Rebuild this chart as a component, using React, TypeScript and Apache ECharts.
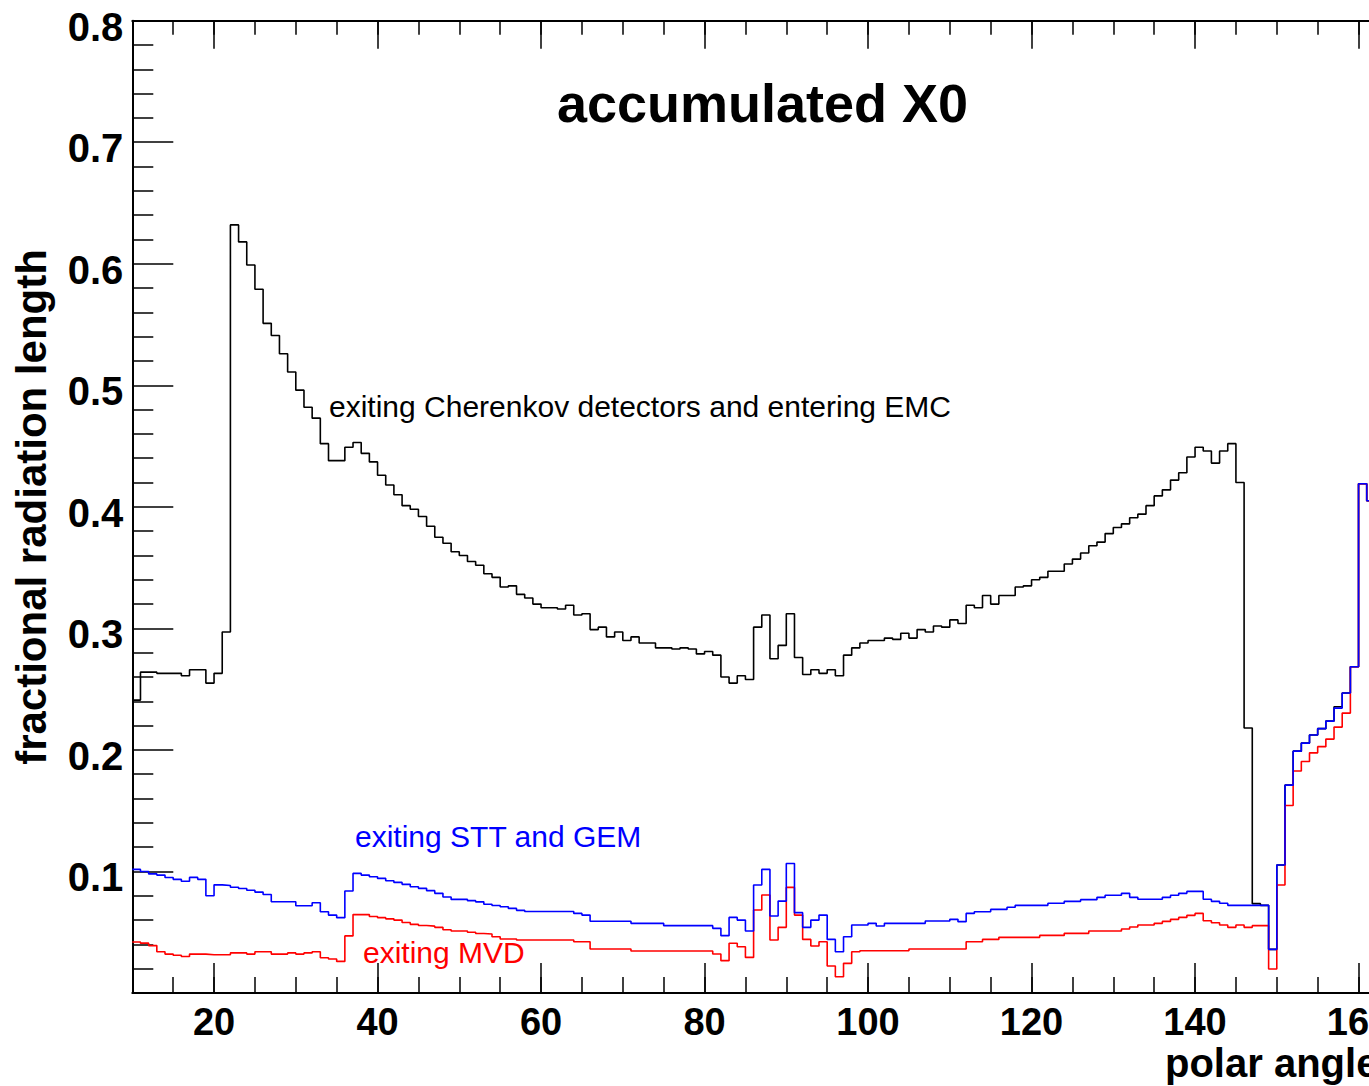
import React, { useEffect, useRef } from "react";
import * as echarts from "echarts";

// Histogram binning: 1-degree bins starting at 10 degrees (bins 10..161 visible)
const binStart = 10;
const binWidth = 1;

// exiting Cherenkov detectors and entering EMC (black)
const cherenkovEmc = [
  0.241, 0.264, 0.264, 0.263, 0.263, 0.263, 0.261, 0.266, 0.266, 0.255,
  0.263, 0.297, 0.632, 0.618, 0.599, 0.579, 0.551, 0.541, 0.526, 0.511,
  0.496, 0.482, 0.473, 0.452, 0.438, 0.438, 0.449, 0.453, 0.444, 0.437,
  0.426, 0.418, 0.41, 0.401, 0.398, 0.392, 0.384, 0.375, 0.37, 0.363,
  0.36, 0.355, 0.352, 0.345, 0.342, 0.334, 0.335, 0.328, 0.325, 0.32,
  0.317, 0.317, 0.316, 0.319, 0.311, 0.312, 0.299, 0.301, 0.293, 0.297,
  0.29, 0.293, 0.288, 0.288, 0.284, 0.284, 0.283, 0.284, 0.283, 0.279,
  0.281, 0.278, 0.26, 0.255, 0.261, 0.258, 0.301, 0.311, 0.275, 0.286,
  0.312, 0.276, 0.262, 0.266, 0.263, 0.266, 0.261, 0.278, 0.284, 0.288,
  0.29, 0.29, 0.292, 0.291, 0.296, 0.292, 0.299, 0.297, 0.302, 0.301,
  0.307, 0.304, 0.319, 0.317, 0.327, 0.32, 0.327, 0.327, 0.334, 0.335,
  0.34, 0.342, 0.347, 0.347, 0.353, 0.357, 0.362, 0.368, 0.371, 0.378,
  0.383, 0.386, 0.391, 0.394, 0.401, 0.409, 0.414, 0.422, 0.428, 0.441,
  0.449, 0.446, 0.436, 0.446, 0.452, 0.42, 0.218, 0.0735, 0.0721, 0.0359,
  0.1053, 0.171, 0.199, 0.2056, 0.2123, 0.2175, 0.2237, 0.2355, 0.2468, 0.2684,
  0.419, 0.405,
];

// exiting STT and GEM (blue)
const sttGem = [
  0.1017, 0.1, 0.098, 0.097, 0.095, 0.0935, 0.092, 0.0951, 0.0935, 0.08,
  0.089, 0.0885, 0.087, 0.086, 0.0845, 0.083, 0.081, 0.0751, 0.0751, 0.0751,
  0.0718, 0.0718, 0.0743, 0.0669, 0.0641, 0.062, 0.0839, 0.0984, 0.097, 0.0957,
  0.0943, 0.0924, 0.091, 0.0894, 0.0874, 0.0861, 0.0842, 0.082, 0.079, 0.077,
  0.077, 0.076, 0.075, 0.073, 0.072, 0.071, 0.0696, 0.068, 0.067, 0.067,
  0.067, 0.067, 0.067, 0.067, 0.0655, 0.0641, 0.059, 0.059, 0.059, 0.059,
  0.059, 0.0573, 0.0573, 0.0573, 0.0573, 0.0554, 0.0554, 0.0554, 0.0554, 0.0554,
  0.0554, 0.0532, 0.0472, 0.0622, 0.06, 0.051, 0.0888, 0.1017, 0.0633, 0.0756,
  0.1066, 0.0661, 0.054, 0.06, 0.0641, 0.0441, 0.034, 0.0463, 0.0559, 0.0559,
  0.0573, 0.0551, 0.0573, 0.0573, 0.0573, 0.0573, 0.0573, 0.0592, 0.0592, 0.0592,
  0.0606, 0.0587, 0.0655, 0.0669, 0.0669, 0.0688, 0.0688, 0.0705, 0.0721, 0.0721,
  0.0721, 0.0721, 0.0738, 0.0738, 0.0754, 0.0754, 0.0768, 0.0768, 0.0787, 0.0804,
  0.0804, 0.082, 0.0787, 0.0771, 0.0771, 0.0771, 0.0787, 0.0804, 0.082, 0.0836,
  0.0836, 0.0771, 0.0754, 0.0738, 0.0721, 0.0721, 0.0721, 0.0721, 0.0721, 0.0359,
  0.1053, 0.171, 0.199, 0.2056, 0.2123, 0.2175, 0.2237, 0.2344, 0.2468, 0.2684,
  0.419, 0.405,
];

// exiting MVD (red)
const mvd = [
  0.042, 0.041, 0.039, 0.034, 0.032, 0.031, 0.03, 0.032, 0.032, 0.0315,
  0.0315, 0.0315, 0.033, 0.033, 0.032, 0.034, 0.034, 0.032, 0.032, 0.033,
  0.032, 0.033, 0.034, 0.029, 0.028, 0.026, 0.047, 0.0645, 0.0645, 0.063,
  0.062, 0.061, 0.06, 0.058, 0.0565, 0.0555, 0.055, 0.054, 0.052, 0.051,
  0.051, 0.05, 0.049, 0.0485, 0.0463, 0.0444, 0.0444, 0.0436, 0.0436, 0.0436,
  0.0436, 0.0436, 0.0436, 0.0436, 0.0422, 0.0422, 0.0362, 0.0362, 0.0362, 0.0362,
  0.0362, 0.0345, 0.0345, 0.0345, 0.0345, 0.0345, 0.0345, 0.0345, 0.0345, 0.0345,
  0.0345, 0.0321, 0.0266, 0.0409, 0.0381, 0.0293, 0.0683, 0.0806, 0.0436, 0.054,
  0.0869, 0.0641, 0.0441, 0.0387, 0.0422, 0.0222, 0.0134, 0.0244, 0.034, 0.0348,
  0.0348, 0.0348, 0.0348, 0.0348, 0.0348, 0.0362, 0.0362, 0.0362, 0.0362, 0.0362,
  0.0362, 0.0362, 0.0422, 0.0422, 0.0441, 0.0441, 0.0458, 0.0458, 0.0458, 0.0458,
  0.0458, 0.0474, 0.0474, 0.0474, 0.0491, 0.0491, 0.0491, 0.051, 0.051, 0.051,
  0.051, 0.0526, 0.0543, 0.0559, 0.0559, 0.0573, 0.0589, 0.0606, 0.0622, 0.0639,
  0.0655, 0.0595, 0.0578, 0.0559, 0.054, 0.0559, 0.054, 0.0554, 0.0554, 0.0197,
  0.0888, 0.1543, 0.1826, 0.1905, 0.1976, 0.2027, 0.2089, 0.2188, 0.2303, 0.2684,
  0.419, 0.405,
];

const xMin = 10;
const xMax = 170;
const xMajorTicks = [20, 40, 60, 80, 100, 120, 140, 160];
const xMinorStep = 5;
const yMin = 0;
const yMax = 0.8;
const yStep = 0.1;

const titleText = "accumulated X0";
const yTitle = "fractional radiation length";
const xTitle = "polar angle";
const labelCherenkov = "exiting Cherenkov detectors and entering EMC";
const labelStt = "exiting STT and GEM";
const labelMvd = "exiting MVD";

const FONT = '"Liberation Sans", Arial, Helvetica, sans-serif';

function toSteps(values: number[]): number[][] {
  const pts = values.map((v, i) => [binStart + i * binWidth, v]);
  pts.push([binStart + values.length * binWidth, values[values.length - 1]]);
  return pts;
}

const CHART_W = 1500;
const CHART_H = 1086;

export default function App() {
  const ref = useRef<HTMLDivElement>(null);

  useEffect(() => {
    if (!ref.current) return;
    const chart = echarts.init(ref.current, undefined, { renderer: "svg" });
    const axisLineStyle = { color: "#000", width: 2 };
    const tickLineStyle = { color: "#000", width: 1.5 };
    const xBase = {
      type: "value",
      min: xMin,
      max: xMax,
      gridIndex: 0,
      splitLine: { show: false },
      axisLabel: { show: false },
      axisTick: { show: false },
      axisLine: { show: false, onZero: false },
    };
    const option: any = {
      animation: false,
      backgroundColor: "#fff",
      grid: {
        left: 132.3,
        top: 20.7,
        right: CHART_W - 1440.3,
        bottom: CHART_H - 993,
        containLabel: false,
        outerBoundsMode: "none",
      },
      xAxis: [
        {
          ...xBase,
          position: "bottom",
          axisLine: { show: true, onZero: false, lineStyle: axisLineStyle },
          axisTick: {
            show: true,
            inside: true,
            length: 30,
            customValues: xMajorTicks,
            lineStyle: tickLineStyle,
          },
          axisLabel: {
            show: true,
            customValues: xMajorTicks,
            margin: 10,
            color: "#000",
            fontSize: 38,
            fontWeight: "bold",
            fontFamily: FONT,
          },
        },
        {
          ...xBase,
          position: "bottom",
          interval: xMinorStep,
          axisTick: { show: true, inside: true, length: 16, lineStyle: tickLineStyle },
        },
        {
          ...xBase,
          position: "top",
          axisLine: { show: true, onZero: false, lineStyle: axisLineStyle },
          axisTick: {
            show: true,
            inside: true,
            length: 28,
            customValues: xMajorTicks,
            lineStyle: tickLineStyle,
          },
        },
        {
          ...xBase,
          position: "top",
          interval: xMinorStep,
          axisTick: { show: true, inside: true, length: 14, lineStyle: tickLineStyle },
        },
      ],
      yAxis: [
        {
          type: "value",
          min: yMin,
          max: yMax,
          interval: yStep,
          position: "left",
          splitLine: { show: false },
          axisLine: { show: true, onZero: false, lineStyle: axisLineStyle },
          axisTick: { show: true, inside: true, length: 41, lineStyle: tickLineStyle },
          minorTick: { show: true, splitNumber: 5, length: 21, lineStyle: tickLineStyle },
          minorSplitLine: { show: false },
          axisLabel: {
            show: true,
            margin: 9,
            color: "#000",
            fontSize: 40,
            fontWeight: "bold",
            fontFamily: FONT,
            verticalAlign: "top",
            lineHeight: 12,
            formatter: (v: number) => (Math.abs(v) < 1e-9 ? "" : v.toFixed(1)),
          },
        },
      ],
      series: [
        {
          name: labelCherenkov,
          type: "line",
          xAxisIndex: 0,
          yAxisIndex: 0,
          step: "end",
          symbol: "none",
          silent: true,
          data: toSteps(cherenkovEmc),
          lineStyle: { color: "#000", width: 1.6 },
          itemStyle: { color: "#000" },
        },
        {
          name: labelMvd,
          type: "line",
          xAxisIndex: 0,
          yAxisIndex: 0,
          step: "end",
          symbol: "none",
          silent: true,
          data: toSteps(mvd),
          lineStyle: { color: "#ff0000", width: 1.6 },
          itemStyle: { color: "#ff0000" },
        },
        {
          name: labelStt,
          type: "line",
          xAxisIndex: 0,
          yAxisIndex: 0,
          step: "end",
          symbol: "none",
          silent: true,
          data: toSteps(sttGem),
          lineStyle: { color: "#0000ff", width: 1.6 },
          itemStyle: { color: "#0000ff" },
        },
      ],
      graphic: [
        {
          type: "text",
          x: 762.5,
          y: 103,
          style: {
            text: titleText,
            fill: "#000",
            font: `bold 54px ${FONT}`,
            align: "center",
            verticalAlign: "middle",
            textAlign: "center",
            textVerticalAlign: "middle",
          },
        },
        {
          type: "text",
          x: 329,
          y: 406,
          style: {
            text: labelCherenkov,
            fill: "#000",
            font: `30px ${FONT}`,
            align: "left",
            verticalAlign: "middle",
            textAlign: "left",
            textVerticalAlign: "middle",
          },
        },
        {
          type: "text",
          x: 355,
          y: 836,
          style: {
            text: labelStt,
            fill: "#0000ff",
            font: `30px ${FONT}`,
            align: "left",
            verticalAlign: "middle",
            textAlign: "left",
            textVerticalAlign: "middle",
          },
        },
        {
          type: "text",
          x: 363,
          y: 952,
          style: {
            text: labelMvd,
            fill: "#ff0000",
            font: `30px ${FONT}`,
            align: "left",
            verticalAlign: "middle",
            textAlign: "left",
            textVerticalAlign: "middle",
          },
        },
        {
          type: "text",
          x: 31,
          y: 507,
          rotation: Math.PI / 2,
          style: {
            text: yTitle,
            fill: "#000",
            font: `bold 42px ${FONT}`,
            align: "center",
            verticalAlign: "middle",
            textAlign: "center",
            textVerticalAlign: "middle",
          },
        },
        {
          type: "text",
          x: 1165,
          y: 1063,
          style: {
            text: xTitle,
            fill: "#000",
            font: `bold 40px ${FONT}`,
            align: "left",
            verticalAlign: "middle",
            textAlign: "left",
            textVerticalAlign: "middle",
          },
        },
      ],
    };
    chart.setOption(option);
    return () => {
      chart.dispose();
    };
  }, []);

  return (
    <div
      style={{
        position: "fixed",
        left: 0,
        top: 0,
        width: 1369,
        height: 1086,
        overflow: "hidden",
        background: "#fff",
      }}
    >
      <div ref={ref} style={{ width: CHART_W, height: CHART_H }} />
    </div>
  );
}
